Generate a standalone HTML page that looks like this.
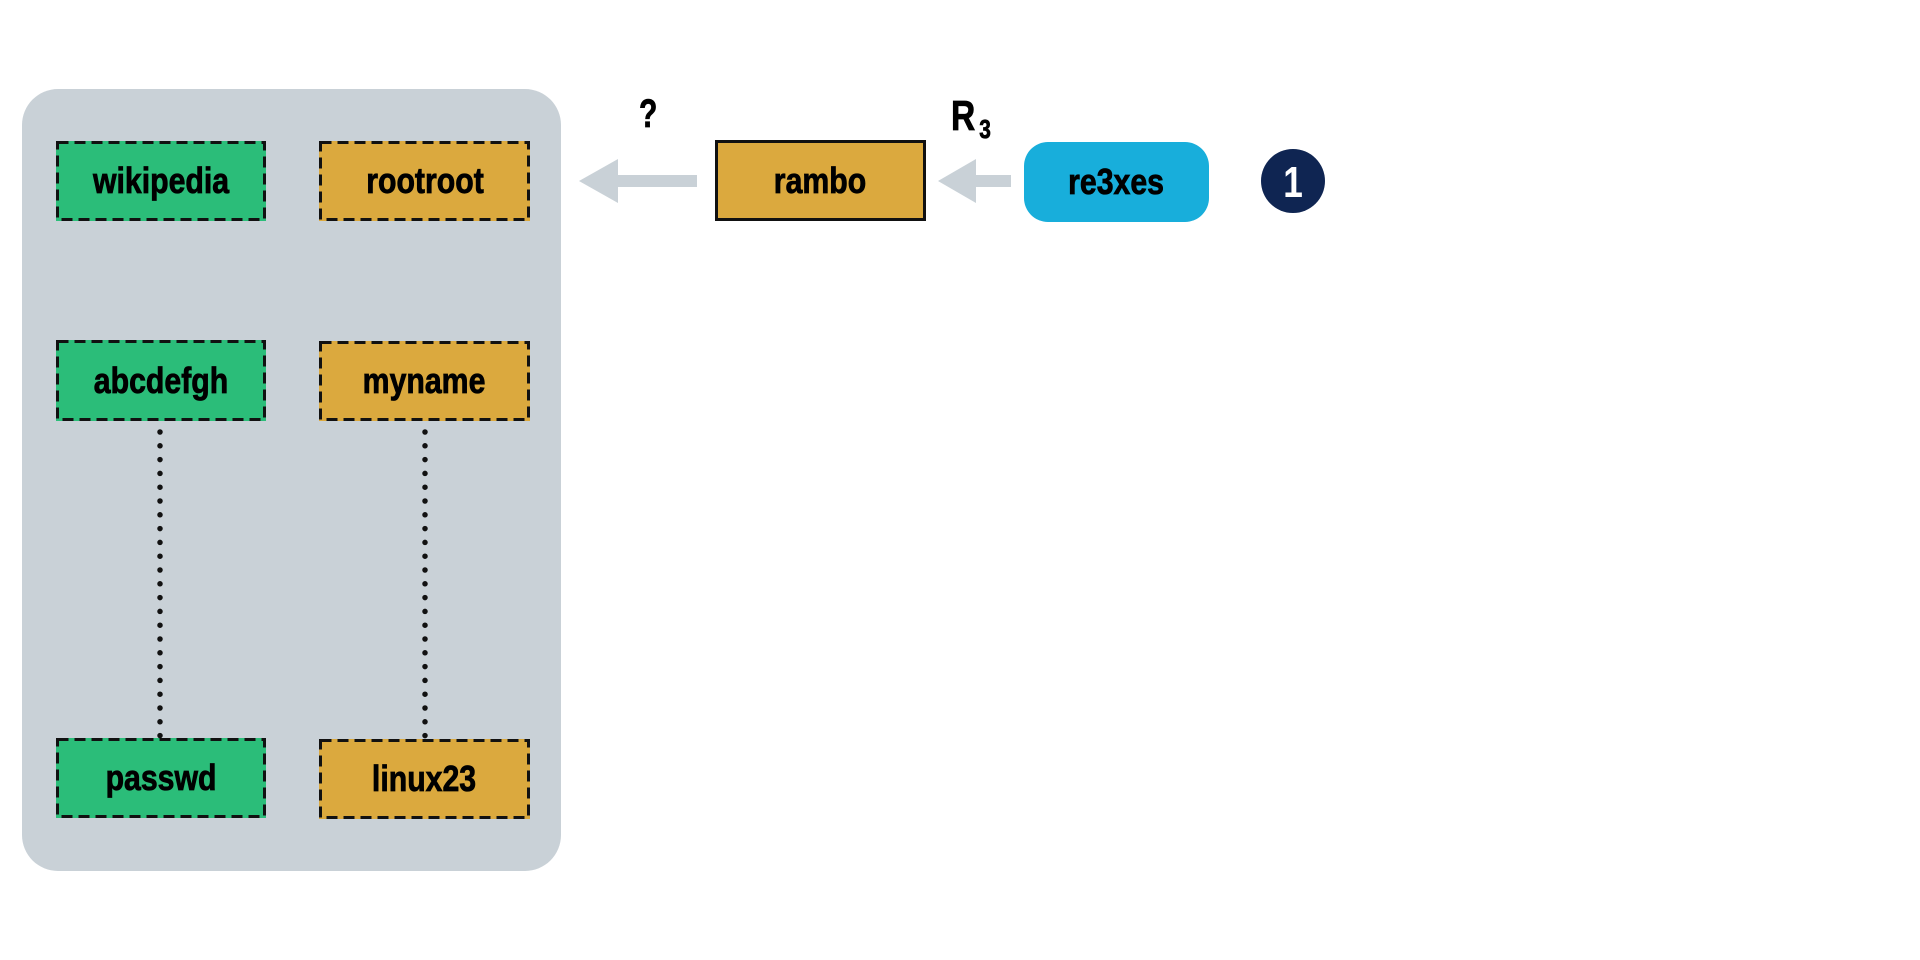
<!DOCTYPE html>
<html><head><meta charset="utf-8"><style>
body{margin:0;width:1920px;height:960px;background:#fff;position:relative;overflow:hidden;font-family:"Liberation Sans",sans-serif;font-weight:bold}
.p{position:absolute}
.box{position:absolute;display:flex;align-items:center;justify-content:center;font-size:36px;color:#000;box-sizing:border-box}
.box span{display:inline-block;transform:scaleX(0.84);-webkit-text-stroke:0.8px #000}
.g{background:#2bbd79}
.o{background:#dba93e}
</style></head><body>
<div class="p" style="left:22px;top:89px;width:539px;height:782px;background:#c9d1d7;border-radius:36px"></div>
<div class="box g" style="left:56px;top:141px;width:210px;height:80px"><span>wikipedia</span></div>
<div class="box o" style="left:319px;top:141px;width:211px;height:80px"><span>rootroot</span></div>
<div class="box g" style="left:56px;top:340px;width:210px;height:81px"><span>abcdefgh</span></div>
<div class="box o" style="left:319px;top:341px;width:211px;height:80px"><span>myname</span></div>
<div class="box g" style="left:56px;top:738px;width:210px;height:80px"><span>passwd</span></div>
<div class="box o" style="left:319px;top:739px;width:211px;height:80px"><span>linux23</span></div>
<svg class="p" style="left:0;top:0" width="1920" height="960">
<g fill="none" stroke="#111" stroke-width="3" stroke-dasharray="11 6">
<rect x="57.5" y="142.5" width="207" height="77"/>
<rect x="320.5" y="142.5" width="208" height="77"/>
<rect x="57.5" y="341.5" width="207" height="78"/>
<rect x="320.5" y="342.5" width="208" height="77"/>
<rect x="57.5" y="739.5" width="207" height="77"/>
<rect x="320.5" y="740.5" width="208" height="77"/>
</g>
<line x1="160" y1="432" x2="160" y2="736" stroke="#111" stroke-width="5.5" stroke-dasharray="0 13.8" stroke-linecap="round"/>
<line x1="425" y1="432" x2="425" y2="736" stroke="#111" stroke-width="5.5" stroke-dasharray="0 13.8" stroke-linecap="round"/>
<g fill="#c9d1d7"><polygon points="938,181 976,159 976,203"/><rect x="975" y="175" width="36" height="12"/></g>
<g fill="#c9d1d7"><polygon points="579,181 618,159 618,203"/><rect x="617" y="175" width="80" height="12"/></g>
<circle cx="1293" cy="181" r="32" fill="#0f2552"/>
<text x="1293" y="197" text-anchor="middle" font-size="44" fill="#fff" font-family="Liberation Sans, sans-serif" font-weight="bold" transform="translate(1293 0) scale(0.8 1) translate(-1293 0)">1</text>
</svg>
<div class="box" style="left:715px;top:140px;width:211px;height:81px;background:#dba93e;border:3px solid #111"><span>rambo</span></div>
<div class="box" style="left:1024px;top:142px;width:185px;height:80px;background:#18aedb;border-radius:24px"><span>re3xes</span></div>
<div class="p" style="left:636px;top:92px;font-size:40px;transform:scaleX(0.75);-webkit-text-stroke:0.8px #000">?</div>
<div class="p" style="left:951px;top:92px;font-size:42px;transform:scaleX(0.8);transform-origin:left;-webkit-text-stroke:0.8px #000">R<span style="font-size:26px;position:relative;top:8px;margin-left:5px">3</span></div>
</body></html>
